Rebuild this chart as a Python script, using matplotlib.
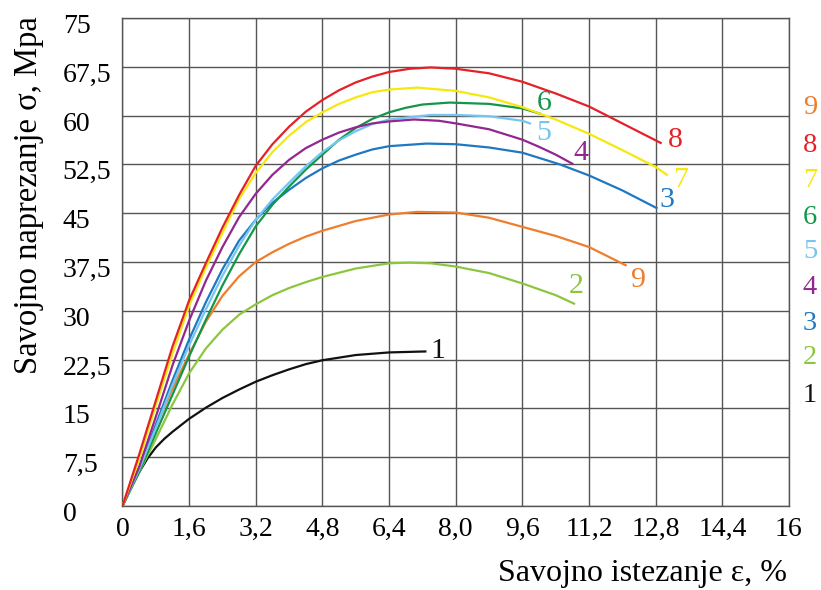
import matplotlib
matplotlib.use('Agg')
import matplotlib.pyplot as plt
from matplotlib.transforms import ScaledTranslation

# curve 1 .. 9: strain (%) and flexural stress (MPa)
x1 = [0, 0.2, 0.4, 0.6, 0.8, 1.0, 1.2, 1.6, 2.0, 2.4, 2.8, 3.2, 3.6, 4.0, 4.4, 4.8, 5.6, 6.4, 7.27]
y1 = [0, 2.8, 5.2, 7.3, 9.0, 10.3, 11.4, 13.4, 15.1, 16.6, 17.9, 19.1, 20.1, 21.0, 21.8, 22.4, 23.2, 23.6, 23.75]

x2 = [0, 0.4, 0.8, 1.2, 1.6, 2.0, 2.4, 2.8, 3.2, 3.6, 4.0, 4.4, 4.8, 5.6, 6.4, 6.9, 7.4, 8.0, 8.8, 9.6, 10.4, 10.84]
y2 = [0, 5.2, 10.3, 15.6, 20.4, 24.2, 27.1, 29.4, 31.0, 32.4, 33.5, 34.4, 35.2, 36.5, 37.3, 37.4, 37.3, 36.8, 35.8, 34.2, 32.4, 31.1]

x3 = [0, 0.4, 0.8, 1.2, 1.6, 2.0, 2.4, 2.8, 3.2, 3.6, 4.0, 4.4, 4.8, 5.2, 5.6, 6.0, 6.4, 7.3, 8.0, 8.8, 9.6, 10.5, 11.2, 12.0, 12.82]
y3 = [0, 5.8, 12.5, 19.3, 25.6, 31.3, 36.4, 40.8, 44.0, 46.6, 48.6, 50.4, 51.9, 53.1, 54.0, 54.8, 55.3, 55.7, 55.6, 55.1, 54.3, 52.5, 50.8, 48.5, 45.8]

x4 = [0, 0.4, 0.8, 1.2, 1.6, 2.0, 2.4, 2.8, 3.2, 3.6, 4.0, 4.4, 4.8, 5.2, 5.6, 6.0, 6.4, 7.0, 7.6, 8.0, 8.8, 9.6, 10.0, 10.4, 10.8]
y4 = [0, 6.0, 13.7, 21.6, 28.5, 34.6, 39.8, 44.4, 48.0, 50.9, 53.2, 55.0, 56.3, 57.4, 58.2, 58.8, 59.1, 59.4, 59.2, 58.8, 57.9, 56.3, 55.2, 54.0, 52.6]

x5 = [0, 0.4, 0.8, 1.2, 1.6, 2.0, 2.4, 2.8, 3.2, 3.6, 4.0, 4.4, 4.8, 5.2, 5.6, 6.0, 6.4, 7.4, 8.0, 8.8, 9.6, 9.78]
y5 = [0, 5.6, 12.0, 18.6, 24.7, 30.2, 35.4, 40.0, 44.0, 47.1, 49.7, 52.2, 54.4, 56.2, 57.6, 58.7, 59.4, 60.1, 60.1, 59.9, 59.2, 58.8]

x6 = [0, 0.4, 0.8, 1.2, 1.6, 2.0, 2.4, 2.8, 3.2, 3.6, 4.0, 4.4, 4.8, 5.2, 5.6, 6.0, 6.4, 6.8, 7.2, 7.85, 8.8, 9.6, 10.02]
y6 = [0, 5.2, 11.2, 17.1, 23.0, 28.6, 33.9, 38.7, 43.0, 46.3, 49.1, 51.7, 54.0, 56.3, 58.1, 59.5, 60.5, 61.2, 61.7, 62.0, 61.8, 61.1, 60.3]

x7 = [0, 0.4, 0.8, 1.2, 1.6, 2.0, 2.4, 2.8, 3.2, 3.6, 4.0, 4.4, 4.8, 5.2, 5.6, 6.0, 6.4, 7.07, 8.0, 8.8, 9.6, 10.4, 11.2, 12.0, 12.8, 13.07]
y7 = [0, 7.2, 15.4, 23.4, 30.8, 36.6, 42.0, 47.2, 51.2, 54.4, 56.9, 59.0, 60.5, 61.8, 62.8, 63.6, 64.0, 64.3, 63.8, 62.8, 61.3, 59.4, 57.2, 54.7, 52.1, 50.9]

x8 = [0, 0.4, 0.8, 1.2, 1.6, 2.0, 2.4, 2.8, 3.2, 3.6, 4.0, 4.4, 4.8, 5.2, 5.6, 6.0, 6.4, 6.9, 7.4, 8.0, 8.8, 9.6, 10.4, 11.2, 12.0, 12.92]
y8 = [0, 7.9, 16.2, 24.5, 31.6, 37.3, 42.8, 47.8, 52.3, 55.6, 58.3, 60.6, 62.4, 63.9, 65.1, 66.0, 66.7, 67.2, 67.4, 67.2, 66.5, 65.2, 63.4, 61.4, 58.8, 55.8]

x9 = [0, 0.4, 0.8, 1.2, 1.6, 2.0, 2.4, 2.8, 3.2, 3.6, 4.0, 4.4, 4.8, 5.6, 6.4, 7.07, 8.0, 8.8, 9.6, 10.4, 11.2, 12.08]
y9 = [0, 6.0, 12.2, 18.0, 23.3, 28.3, 32.3, 35.3, 37.5, 39.0, 40.3, 41.4, 42.3, 43.8, 44.8, 45.2, 45.1, 44.3, 42.9, 41.5, 39.8, 37.0]

names = ['1', '2', '3', '4', '5', '6', '7', '8', '9']
colors = ['#111111', '#8cc63f', '#1f78c1', '#92278f', '#74c6ee',
          '#13964a', '#f6e80c', '#e42128', '#ef7d2d']
label_x = [7.58, 10.88, 13.08, 11.0, 10.12, 10.13, 13.43, 13.28, 12.38]
label_y = [23.8, 33.8, 47.0, 54.2, 57.3, 61.9, 50.1, 56.2, 34.7]

x_ticks = [0, 1.6, 3.2, 4.8, 6.4, 8.0, 9.6, 11.2, 12.8, 14.4, 16]
x_labels = ['0', '1,6', '3,2', '4,8', '6,4', '8,0', '9,6', '11,2', '12,8', '14,4', '16']
y_ticks = [0, 7.5, 15, 22.5, 30, 37.5, 45, 52.5, 60, 67.5, 75]
y_labels = ['0', '7,5', '15', '22,5', '30', '37,5', '45', '52,5', '60', '67,5', '75']

plt.rcParams['font.family'] = ['Liberation Serif', 'DejaVu Serif']

fig = plt.figure(figsize=(8.21, 5.9), dpi=100)
ax = fig.add_axes([0.1492, 0.1424, 0.8118, 0.8271])

curves = [(x1, y1), (x2, y2), (x3, y3), (x4, y4), (x5, y5),
          (x6, y6), (x7, y7), (x8, y8), (x9, y9)]
# draw 1 first and 8 last, like the original stacking
order = [0, 1, 8, 2, 5, 4, 3, 6, 7]
for i in order:
    xs, ys = curves[i]
    ax.plot(xs, ys, color=colors[i], lw=1.6, zorder=3, solid_joinstyle='round')
    ax.text(label_x[i], label_y[i], names[i], color=colors[i], fontsize=21.5,
            ha='center', va='center', zorder=4)

ax.set_xlim(0, 16)
ax.set_ylim(0, 75)
ax.set_xticks(x_ticks)
ax.set_xticklabels(x_labels)
ax.set_yticks(y_ticks)
ax.set_yticklabels(y_labels)
ax.tick_params(length=0, labelsize=20)
ax.tick_params(axis='x', pad=8)
ax.tick_params(axis='y', pad=43)
shift = ScaledTranslation(0, -0.055, fig.dpi_scale_trans)
for lbl in ax.get_yticklabels():
    lbl.set_horizontalalignment('left')
    lbl.set_transform(lbl.get_transform() + shift)
ax.grid(True, color='#555555', lw=1.0)
for s in ax.spines.values():
    s.set_color('#555555')
    s.set_linewidth(1.0)

fig.text(0.035, 1 - 195 / 590, 'Savojno naprezanje σ, Mpa', rotation=90,
         fontsize=23.5, ha='center', va='center')
fig.text(787 / 821, 1 - 573 / 590, 'Savojno istezanje ε, %',
         fontsize=23, ha='right', va='center')

# numbered key on the right
key_y = [108, 145, 180, 217, 252, 287, 323, 358, 395]
for k, i in enumerate(range(8, -1, -1)):
    fig.text(810 / 821, 1 - key_y[k] / 590, names[i], color=colors[i],
             fontsize=20.5, ha='center', va='center')

fig.savefig('out.png', dpi=100)
